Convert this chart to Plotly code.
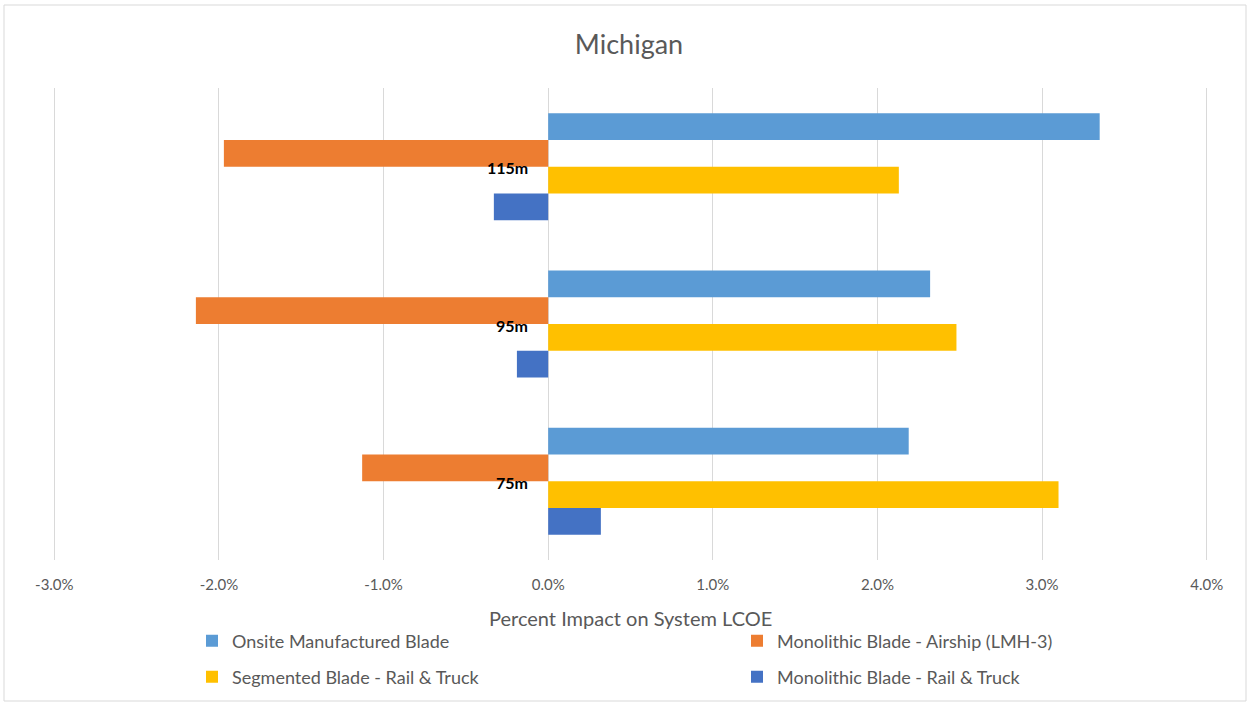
import plotly.graph_objects as go

# categories top to bottom
sizes = ["115m", "95m", "75m"]

# percent impact on system LCOE (fractions)
onsite = [0.0335, 0.0232, 0.0219]
airship = [-0.0197, -0.0214, -0.0113]
segmented = [0.0213, 0.0248, 0.0310]
mono_rail = [-0.0033, -0.0019, 0.0032]

tick_vals = [-0.03, -0.02, -0.01, 0.0, 0.01, 0.02, 0.03, 0.04]
tick_text = ["-3.0%", "-2.0%", "-1.0%", "0.0%", "1.0%", "2.0%", "3.0%", "4.0%"]

series = [
    ("Onsite Manufactured Blade", onsite, "#5B9BD5", "legend"),
    ("Monolithic Blade - Airship (LMH-3)", airship, "#ED7D31", "legend2"),
    ("Segmented Blade - Rail & Truck", segmented, "#FFC000", "legend3"),
    ("Monolithic Blade - Rail & Truck", mono_rail, "#4472C4", "legend4"),
]

fig = go.Figure()
for name, vals, col, leg in series:
    fig.add_trace(go.Bar(y=sizes, x=vals, name=name, orientation="h",
                         marker=dict(color=col, line=dict(width=0)),
                         legend=leg, showlegend=True))

# plot area in pixels: x 53..1208, y 88..560
L, R, T, B = 53, 43, 88, 147
W, H = 1251, 707
pw, ph = W - L - R, H - T - B


def px_x(p):
    return (p - L) / pw


def px_y(p):
    return (H - B - p) / ph


txt = "#595959"
fnt = "Lato, 'Open Sans', sans-serif"

for s in sizes:
    fig.add_annotation(x=0, y=s, xref="x", yref="y", text="<b>%s</b>" % s,
                       showarrow=False, xanchor="right", yanchor="middle",
                       xshift=-18, yshift=-1,
                       font=dict(size=16, color="#000000", family=fnt))

fig.add_annotation(x=px_x(630), y=px_y(618), xref="paper", yref="paper",
                   text="Percent Impact on System LCOE", showarrow=False,
                   xanchor="center", yanchor="middle",
                   font=dict(size=20, color=txt, family=fnt))

# outer chart border
fig.add_shape(type="rect", xref="paper", yref="paper",
              x0=px_x(4), x1=px_x(1246), y0=px_y(701), y1=px_y(5),
              line=dict(color="#d9d9d9", width=1))

leg_pos = {"legend": (192, 641), "legend2": (737, 641),
           "legend3": (192, 677), "legend4": (737, 677)}
legends = {}
for k, (lx, ly) in leg_pos.items():
    legends[k] = dict(x=px_x(lx), y=px_y(ly), xanchor="left", yanchor="middle",
                      font=dict(size=18, color=txt), itemwidth=30,
                      visible=True, bgcolor="rgba(0,0,0,0)")

fig.update_layout(
    width=W, height=H, showlegend=True,
    margin=dict(l=L, r=R, t=T, b=B, autoexpand=False),
    paper_bgcolor="white", plot_bgcolor="white",
    font=dict(family=fnt, color=txt, size=13),
    title=dict(text="Michigan", x=px_x(629), xref="paper", xanchor="center",
               y=1 - 45 / H, yanchor="middle",
               font=dict(size=27, color=txt, family=fnt)),
    barmode="group", bargap=0.32, bargroupgap=0,
    xaxis=dict(range=[-0.03008, 0.04008], tickvals=tick_vals, ticktext=tick_text,
               showgrid=True, gridcolor="#d9d9d9", gridwidth=1,
               zeroline=False, showline=False, ticks="",
               ticklabelstandoff=14, tickfont=dict(size=15, color=txt)),
    yaxis=dict(autorange="reversed", showticklabels=False, showgrid=False,
               zeroline=False, showline=False, ticks=""),
    **legends,
)

fig.write_html("out.html", config={"displayModeBar": False},
               post_script="document.body.style.margin='0';")
